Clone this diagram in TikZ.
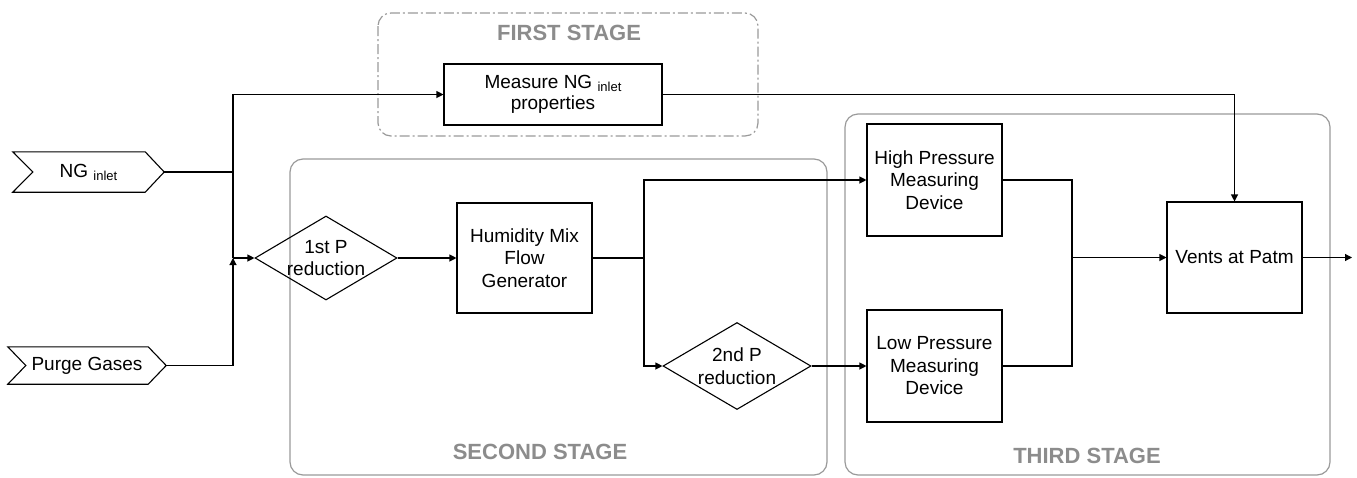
\documentclass[tikz,border=0pt]{standalone}
\usepackage{fontspec}
\setmainfont{Liberation Sans}
\usetikzlibrary{arrows.meta,shapes.geometric}
\definecolor{stagegrey}{HTML}{8C8C8C}
\definecolor{framegrey}{HTML}{9A9A9A}
\newcommand{\sub}[1]{\raisebox{-3pt}{\fontsize{13}{13}\selectfont #1}}
\tikzset{
  base/.style={font=\fontsize{19}{22.5}\selectfont, align=center, inner sep=0pt},
  procbox/.style={base, draw=black, line width=1.1pt, rectangle},
  decide/.style={draw=black, line width=1.1pt, diamond, inner sep=0pt},
  plaintext/.style={base},
  chev/.style={base, rectangle},
  conn/.style={draw=black, line width=1.1pt},
  arr/.style={conn, -{Triangle[length=7pt,width=7pt]}},
  stageframe/.style={draw=framegrey, line width=1.2pt, rounded corners=13pt},
  stagelabel/.style={font=\fontsize{22}{24}\selectfont\bfseries, text=stagegrey, inner sep=0pt},
}
\begin{document}
\begin{tikzpicture}[x=1pt,y=-1pt]
\useasboundingbox (0,0) rectangle (1357,477);
% stage frames
\draw[stageframe, dash pattern=on 10pt off 3pt on 2pt off 3pt] (378,13) rectangle (758,136);
\draw[stageframe] (290,159) rectangle (827,475);
\draw[stageframe] (845,114) rectangle (1330,475);
\node[stagelabel] (s1) at (569,33) {FIRST STAGE};
\node[stagelabel] (s2) at (540,452) {SECOND STAGE};
\node[stagelabel] (s3) at (1087,456) {THIRD STAGE};
% inputs (chevrons)
\node[chev, minimum width=151pt, minimum height=40pt] (ng) at (88.5,172) {NG \sub{inlet}};
\draw[line width=1.1pt] (ng.north west) -- ([xshift=-19pt]ng.north east) -- (ng.east) -- ([xshift=-19pt]ng.south east) -- (ng.south west) -- ([xshift=20pt]ng.west) -- cycle;
\node[chev, minimum width=158pt, minimum height=37pt] (purge) at (87,365.5) {Purge Gases};
\draw[line width=1.1pt] (purge.north west) -- ([xshift=-18pt]purge.north east) -- (purge.east) -- ([xshift=-18pt]purge.south east) -- (purge.south west) -- ([xshift=18pt]purge.west) -- cycle;
% process nodes
\node[procbox, minimum width=218pt, minimum height=61pt] (meas) at (553,94.5) {Measure NG \sub{inlet}\\[-1pt]properties};
\node[decide, minimum width=142pt, minimum height=84pt] (d1) at (326,258) {};
\node[plaintext] (d1t) at (326,258) {1st P\\reduction};
\node[procbox, minimum width=135pt, minimum height=110pt] (hum) at (524.5,258) {Humidity Mix\\Flow\\Generator};
\node[decide, minimum width=148pt, minimum height=87pt] (d2) at (737,366) {};
\node[plaintext] (d2t) at (737,366) {2nd P\\reduction};
\node[procbox, minimum width=135pt, minimum height=112pt] (hp) at (934.5,180) {High Pressure\\Measuring\\Device};
\node[procbox, minimum width=135pt, minimum height=112pt] (lp) at (934.5,366) {Low Pressure\\Measuring\\Device};
\node[procbox, minimum width=135pt, minimum height=111pt] (vents) at (1234.5,257.5) {Vents at Patm};
% junctions
\coordinate (j1) at (233,172);
\coordinate (j2) at (233,258);
\coordinate (j3) at (644,258);
\coordinate (j4) at (1072,257.5);
\coordinate (out) at (1352,257.5);
% connectors
\draw[conn] (ng.east) -- (j1);
\draw[arr] (j1) |- (meas.west);
\draw[conn] (j1) -- (j2);
\draw[arr] (purge.east) -| (j2);
\draw[arr] (j2) -- (d1.west);
\draw[arr] (d1.east) -- (hum.west);
\draw[conn] (hum.east) -- (j3);
\draw[arr] (j3) |- (hp.west);
\draw[arr] (j3) |- (d2.west);
\draw[arr] (d2.east) -- (lp.west);
\draw[conn] (hp.east) -| (j4);
\draw[conn] (lp.east) -| (j4);
\draw[arr] (j4) -- (vents.west);
\draw[arr] (meas.east) -| (vents.north);
\draw[arr] (vents.east) -- (out);
\end{tikzpicture}
\end{document}
